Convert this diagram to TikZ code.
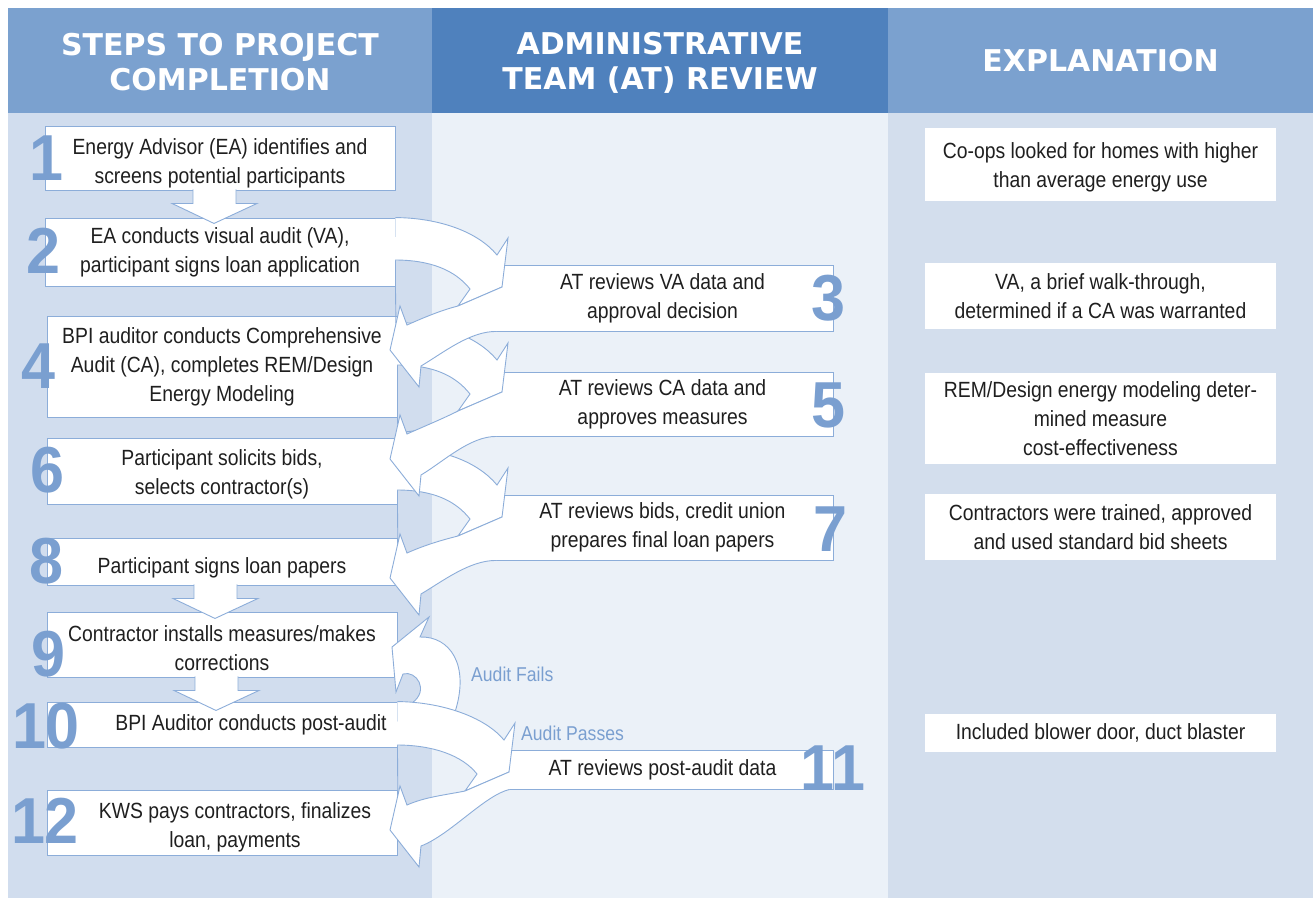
\documentclass[tikz,border=0pt]{standalone}
\usepackage{fontspec}
\setmainfont{Liberation Sans}[FakeStretch=0.88]
\newfontfamily\headfont{DejaVu Sans}
\newfontfamily\numfont{Liberation Sans}[FakeStretch=0.94]

\definecolor{hdrblue}{HTML}{7BA1CF}
\definecolor{hdrdark}{HTML}{4F81BD}
\definecolor{leftbg}{HTML}{D1DDEE}
\definecolor{midbg}{HTML}{EBF1F8}
\definecolor{rightbg}{HTML}{D3DEED}
\definecolor{edgeblue}{HTML}{8CADD9}
\definecolor{numblue}{HTML}{7A9FD0}
\definecolor{textgray}{HTML}{1F1F1F}

\tikzset{
  hdr/.style={inner sep=0, minimum height=105pt, text=white, align=center, font=\headfont\bfseries\fontsize{30}{35}\selectfont},
  stepbox/.style={draw=edgeblue, line width=0.9pt, fill=white, inner sep=0, align=center, text=textgray, font=\fontsize{22}{29}\selectfont},
  steptext/.style={inner sep=0, align=center, text=textgray, font=\fontsize{22}{29}\selectfont},
  notebox/.style={fill=white, inner sep=0, minimum width=351pt, align=center, text=textgray, font=\fontsize{22}{29}\selectfont},
  num/.style={inner sep=0, text=numblue, font=\numfont\bfseries\fontsize{65}{65}\selectfont},
  band/.style={draw=edgeblue, line width=0.9pt, fill=white, line join=miter},
  bandback/.style={draw=edgeblue, line width=0.9pt},
  flag/.style={inner sep=0, text=numblue, font=\fontsize{20}{24}\selectfont}
}

\begin{document}
\begin{tikzpicture}[x=1pt, y=-1pt]
  \useasboundingbox (0,0) rectangle (1313,898);

  % Column backgrounds
  \fill[leftbg] (8,113) rectangle (432,898);
  \fill[midbg] (432,113) rectangle (888,898);
  \fill[rightbg] (888,113) rectangle (1313,898);

  % Headers
  \node[hdr, fill=hdrblue, minimum width=424pt, text height=61pt] (h1) at (220,60.5) {STEPS TO PROJECT\\COMPLETION};
  \node[hdr, fill=hdrdark, minimum width=456pt, text height=61pt] (h2) at (660,60.5) {ADMINISTRATIVE\\TEAM (AT) REVIEW};
  \node[hdr, fill=hdrblue, minimum width=425pt] (h3) at (1100.5,60.5) {EXPLANATION};

  % Steps
  \node[stepbox, text height=55pt, minimum width=350pt, minimum height=64pt] (s1) at (220,158) {Energy Advisor (EA) identifies and\\screens potential participants};
  \node[stepbox, minimum width=350pt, minimum height=68pt] (s2) at (220,252) {EA conducts visual audit (VA),\\participant signs loan application};
  \node[stepbox, minimum width=341pt, minimum height=66pt] (s3) at (662.5,298) {AT reviews VA data and\\approval decision};
  \node[stepbox, minimum width=350pt, minimum height=101pt] (s4) at (222,366.5) {BPI auditor conducts Comprehensive\\Audit (CA), completes REM/Design\\Energy Modeling};
  \node[stepbox, minimum width=341pt, minimum height=64pt] (s5) at (662.5,404) {AT reviews CA data and\\approves measures};
  \node[stepbox, text height=51pt, minimum width=350pt, minimum height=66pt] (s6) at (222,471) {Participant solicits bids,\\selects contractor(s)};
  \node[stepbox, minimum width=341pt, minimum height=65pt] (s7) at (662.5,527.5) {AT reviews bids, credit union\\prepares final loan papers};
  \node[stepbox, text height=28pt, minimum width=350pt, minimum height=47pt] (s8) at (222,561.5) {Participant signs loan papers};
  \node[stepbox, text height=53pt, minimum width=350pt, minimum height=65pt] (s9) at (222,644.5) {Contractor installs measures/makes\\corrections};
  \node[stepbox, minimum width=350pt, minimum height=45pt] (s10) at (222,724.5) {};
  \node[steptext] at ([xshift=29pt]s10.center) {BPI Auditor conducts post-audit};
  \node[stepbox, minimum width=341pt, minimum height=39pt] (s11) at (662.5,769.5) {AT reviews post-audit data};
  \node[stepbox, minimum width=350pt, minimum height=65pt] (s12) at (222,822.5) {};
  \node[steptext] at ([xshift=13pt, yshift=-5pt]s12.center) {KWS pays contractors, finalizes\\loan, payments};

  % Explanations
  \node[notebox, text height=51pt, minimum height=73pt] (e1) at (1100.5,164.5) {Co-ops looked for homes with higher\\than average energy use};
  \node[notebox, minimum height=66pt] (e2) at (1100.5,296) {VA, a brief walk-through,\\determined if a CA was warranted};
  \node[notebox, minimum height=91pt] (e3) at (1100.5,418.5) {REM/Design energy modeling deter-\\mined measure\\cost-effectiveness};
  \node[notebox, minimum height=66pt] (e4) at (1100.5,527) {Contractors were trained, approved\\and used standard bid sheets};
  \node[notebox, minimum height=38pt] (e5) at (1100.5,733) {Included blower door, duct blaster};

  % Audit fails: back to step 9
  \draw[band] (455,712) .. controls (470,665) and (450,636) .. (420,637) -- (429,617) -- (392,647) -- (396,692)
    -- (403,674) .. controls (416,670) and (430,690) .. (412,703);

  % Curved arrows out to the review column
  \draw[band] (s2.north east) .. controls (440,218) and (478,232) .. (497,255) -- (508,238) -- (502,287) -- (458,306)
    -- (470,289) .. controls (455,270) and (430,260) .. (395,260);
  \draw[bandback] (458,306) .. controls (440,320) and (420,327) .. (396,327) -- (s2.south east);
  \draw[band] ([yshift=-7pt]s4.north east) .. controls (442,323) and (478,337) .. (497,360) -- (508,343) -- (502,392) -- (458,411)
    -- (470,394) .. controls (455,375) and (432,365) .. (397,365);
  \draw[bandback] (458,411) .. controls (440,425) and (422,432) .. (398,432) -- (s4.south east);
  \draw[band] ([yshift=-10pt]s6.north east) .. controls (442,448) and (478,462) .. (497,485) -- (508,468) -- (502,517) -- (458,536)
    -- (470,519) .. controls (455,500) and (432,490) .. (397,490);
  \draw[bandback] (458,536) .. controls (440,550) and (422,557) .. (398,557) -- (s6.south east);
  \draw[band] (s10.north east) .. controls (442,702) and (485,717) .. (504,740) -- (515,723) -- (509,772) -- (465,791)
    -- (477,774) .. controls (462,755) and (432,745) .. (397,745);
  \draw[bandback] (465,791) .. controls (447,805) and (422,812) .. (398,812) -- (s10.south east);

  % Curved arrows back to the steps column
  \draw[band] ([xshift=5pt]s3.south west) .. controls (470,331) and (443,353) .. (421,366) -- (419,387) -- (390,350) -- (400,306)
    -- (407,325) .. controls (425,317) and (442,310) .. (458,306) -- (502,287);
  \draw[band] ([xshift=5pt]s5.south west) .. controls (470,436) and (443,462) .. (421,475) -- (419,496) -- (390,459) -- (400,415)
    -- (407,434) .. controls (425,426) and (442,419) .. (458,411) -- (502,392);
  \draw[band] ([xshift=5pt]s7.south west) .. controls (470,560) and (443,581) .. (421,594) -- (419,615) -- (390,578) -- (400,534)
    -- (407,553) .. controls (425,545) and (442,540) .. (458,536) -- (502,517);
  \draw[band] ([xshift=18pt]s11.south west) .. controls (485,795) and (450,835) .. (421,846) -- (419,867) -- (390,830) -- (400,786)
    -- (407,805) .. controls (425,797) and (445,795) .. (465,791) -- (509,772);

  % Straight arrows down
  \draw[band] ([xshift=-27pt, yshift=1pt]s1.south) -- ++(0,14) -- ++(-21,0) -- ++(42,20) -- ++(43,-20) -- ++(-21,0) -- ++(0,-14);
  \draw[band] ([xshift=-28pt, yshift=1pt]s8.south) -- ++(0,14) -- ++(-21,0) -- ++(42,20) -- ++(43,-20) -- ++(-21,0) -- ++(0,-14);
  \draw[band] ([xshift=-27pt, yshift=1pt]s9.south) -- ++(0,14) -- ++(-21,0) -- ++(42,20) -- ++(43,-20) -- ++(-21,0) -- ++(0,-14);

  % Step numbers
  \node[num] (n1) at (46,158) {1};
  \node[num] (n2) at (43,251) {2};
  \node[num] (n3) at (828,298) {3};
  \node[num] (n4) at (38,366) {4};
  \node[num] (n5) at (828,405) {5};
  \node[num] (n6) at (47,470) {6};
  \node[num] (n7) at (830,529) {7};
  \node[num] (n8) at (46,561) {8};
  \node[num] (n9) at (48,654) {9};
  \node[num] (n10) at (46,726) {10};
  \node[num] (n11) at (833,768) {11};
  \node[num] (n12) at (45,821) {12};

  % Audit outcomes
  \node[flag, anchor=west] (fail) at (471,674) {Audit Fails};
  \node[flag, anchor=west] (pass) at (521,733) {Audit Passes};
\end{tikzpicture}
\end{document}
